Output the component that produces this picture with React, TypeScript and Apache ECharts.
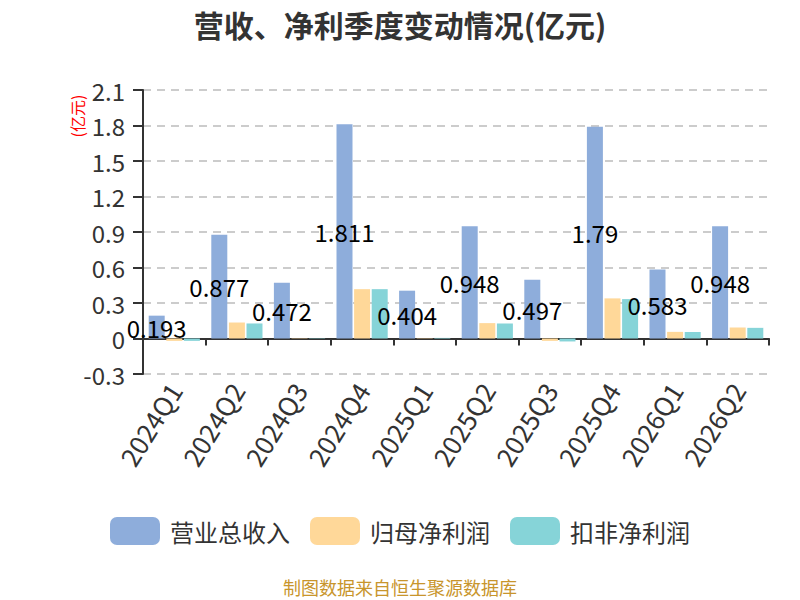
import React, { useEffect, useRef } from "react";
import * as echarts from "echarts";

const categories = ["2024Q1", "2024Q2", "2024Q3", "2024Q4", "2025Q1", "2025Q2", "2025Q3", "2025Q4", "2026Q1", "2026Q2"];
const revenue = [0.193, 0.877, 0.472, 1.811, 0.404, 0.948, 0.497, 1.79, 0.583, 0.948];
const netProfit = [-0.02, 0.135, 0.003, 0.417, -0.003, 0.13, -0.02, 0.339, 0.056, 0.093];
const deductedProfit = [-0.02, 0.127, -0.003, 0.417, 0.005, 0.127, -0.025, 0.333, 0.055, 0.09];
const seriesNames = ["营业总收入", "归母净利润", "扣非净利润"];
const colors = ["#8eaddb", "#ffd899", "#86d4d8"];
const FONT = "'Noto Sans CJK SC', 'Noto Sans', sans-serif";

export default function App() {
  const ref = useRef<HTMLDivElement>(null);
  useEffect(() => {
    if (!ref.current) return;
    document.body.style.margin = "0";
    const chart = echarts.init(ref.current, null, { renderer: "svg" });
    const barBase = {
      type: "bar",
      barWidth: 16,
      barGap: "10%",
      xAxisIndex: 0,
    };
    chart.setOption({
      animation: false,
      textStyle: { fontFamily: FONT },
      title: {
        text: "营收、净利季度变动情况(亿元)",
        left: "center",
        top: 4,
        textStyle: { fontSize: 30, fontWeight: "bold", color: "#333", fontFamily: FONT },
      },
      legend: {
        bottom: 50,
        left: "center",
        itemWidth: 50,
        itemHeight: 28,
        itemGap: 20,
        icon: "roundRect",
        textStyle: { fontSize: 24, color: "#333", padding: [0, 0, 0, 5], fontFamily: FONT },
        data: seriesNames,
      },
      grid: { left: 143, right: 31, top: 90, bottom: 226, containLabel: false },
      xAxis: [
        {
          type: "category",
          data: categories,
          axisLine: { onZero: true, lineStyle: { color: "#333", width: 2 } },
          axisTick: { show: true, length: 7, lineStyle: { color: "#333", width: 2 } },
          axisLabel: { show: false },
        },
        {
          type: "category",
          data: categories,
          position: "bottom",
          axisLine: { show: false, onZero: false },
          axisTick: { show: false },
          axisLabel: { rotate: 58, fontSize: 26, color: "#333", margin: 11, fontFamily: FONT },
        },
      ],
      yAxis: {
        type: "value",
        min: -0.3,
        max: 2.1,
        interval: 0.3,
        axisLine: { show: true, lineStyle: { color: "#333", width: 2 } },
        axisTick: { show: true, length: 10, lineStyle: { color: "#333", width: 2 } },
        axisLabel: {
          fontSize: 24,
          color: "#333",
          margin: 18,
          fontFamily: FONT,
          formatter: (v: number) => (Math.abs(v) < 1e-9 ? "0" : String(+v.toFixed(1))),
        },
        splitLine: { show: true, lineStyle: { color: "#ccc", width: 2, type: [8, 6] } },
      },
      graphic: [
        {
          type: "text",
          x: 77,
          y: 116,
          rotation: Math.PI / 2,
          style: {
            text: "(亿元)",
            fill: "#ff0000",
            fontSize: 16,
            fontFamily: FONT,
            align: "center",
            verticalAlign: "middle",
          },
        },
        {
          type: "text",
          left: "center",
          top: 578,
          style: {
            text: "制图数据来自恒生聚源数据库",
            fill: "#c8952c",
            fontSize: 18,
            fontFamily: FONT,
          },
        },
      ],
      series: [
        {
          ...barBase,
          name: seriesNames[0],
          data: revenue,
          itemStyle: { color: colors[0] },
          label: { show: true, position: "inside", color: "#000", fontSize: 24, fontFamily: FONT },
        },
        {
          ...barBase,
          name: seriesNames[1],
          data: netProfit,
          itemStyle: { color: colors[1] },
        },
        {
          ...barBase,
          name: seriesNames[2],
          data: deductedProfit,
          itemStyle: { color: colors[2] },
        },
      ],
    });
    return () => chart.dispose();
  }, []);
  return <div ref={ref} style={{ width: 800, height: 600 }} />;
}
